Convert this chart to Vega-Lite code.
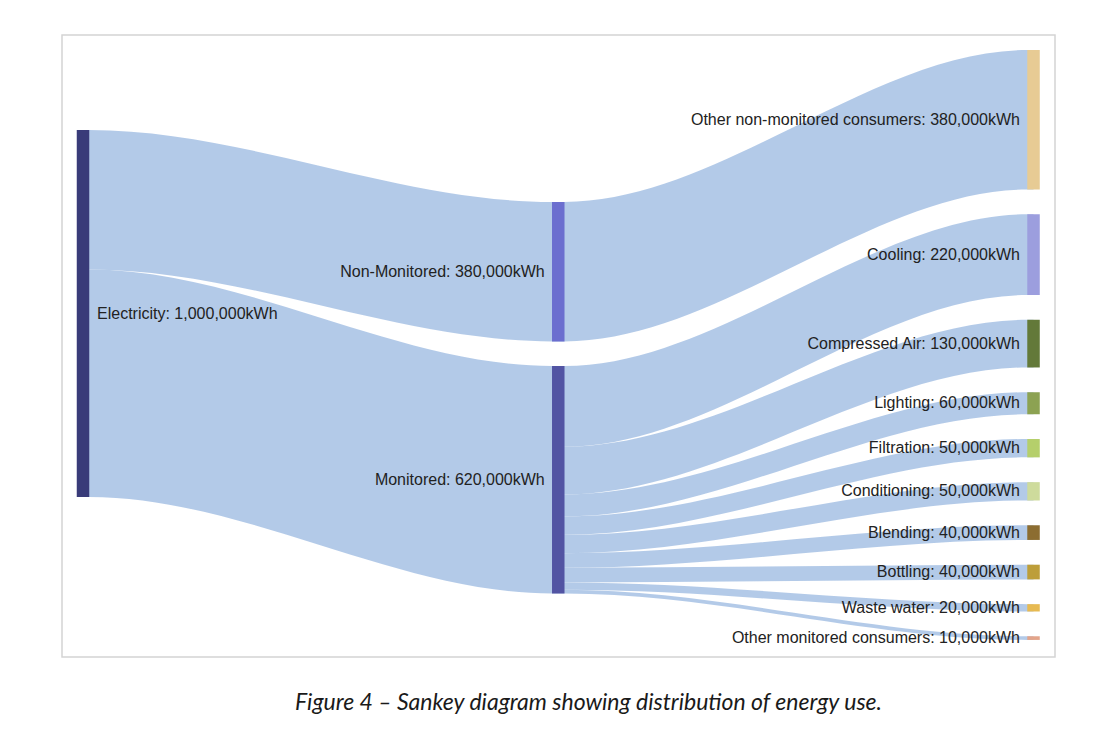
{
  "$schema": "https://vega.github.io/schema/vega-lite/v6.json",
  "width": 993,
  "height": 622,
  "autosize": {"type": "none"},
  "padding": {"left": 62, "top": 35, "right": 52, "bottom": 78},
  "background": "white",
  "view": {"stroke": "#d4d4d4", "strokeWidth": 1.5},
  "title": {
    "text": "Figure 4 – Sankey diagram showing distribution of energy use.",
    "orient": "bottom",
    "anchor": "middle",
    "dx": 30,
    "offset": 35,
    "font": "Lato",
    "fontStyle": "italic",
    "fontWeight": "normal",
    "fontSize": 23,
    "color": "#1a1a1a"
  },
  "datasets": {
    "links": [
      {"link": "Electricity→Non-Monitored", "x": 0, "top": 259, "bottom": 639},
      {"link": "Electricity→Non-Monitored", "x": 0.013, "top": 259, "bottom": 639},
      {"link": "Electricity→Non-Monitored", "x": 0.987, "top": 455, "bottom": 835},
      {"link": "Electricity→Non-Monitored", "x": 1, "top": 455, "bottom": 835},
      {"link": "Electricity→Monitored", "x": 0, "top": 639, "bottom": 1259},
      {"link": "Electricity→Monitored", "x": 0.013, "top": 639, "bottom": 1259},
      {"link": "Electricity→Monitored", "x": 0.987, "top": 902, "bottom": 1522},
      {"link": "Electricity→Monitored", "x": 1, "top": 902, "bottom": 1522},
      {"link": "Non-Monitored→Other non-monitored consumers", "x": 1, "top": 455, "bottom": 835},
      {"link": "Non-Monitored→Other non-monitored consumers", "x": 1.013, "top": 455, "bottom": 835},
      {"link": "Non-Monitored→Other non-monitored consumers", "x": 1.987, "top": 41, "bottom": 421},
      {"link": "Non-Monitored→Other non-monitored consumers", "x": 2, "top": 41, "bottom": 421},
      {"link": "Monitored→Cooling", "x": 1, "top": 902, "bottom": 1122},
      {"link": "Monitored→Cooling", "x": 1.013, "top": 902, "bottom": 1122},
      {"link": "Monitored→Cooling", "x": 1.987, "top": 488.5, "bottom": 708.5},
      {"link": "Monitored→Cooling", "x": 2, "top": 488.5, "bottom": 708.5},
      {"link": "Monitored→Compressed Air", "x": 1, "top": 1122, "bottom": 1252},
      {"link": "Monitored→Compressed Air", "x": 1.013, "top": 1122, "bottom": 1252},
      {"link": "Monitored→Compressed Air", "x": 1.987, "top": 776, "bottom": 906},
      {"link": "Monitored→Compressed Air", "x": 2, "top": 776, "bottom": 906},
      {"link": "Monitored→Lighting", "x": 1, "top": 1252, "bottom": 1312},
      {"link": "Monitored→Lighting", "x": 1.013, "top": 1252, "bottom": 1312},
      {"link": "Monitored→Lighting", "x": 1.987, "top": 973.5, "bottom": 1033.5},
      {"link": "Monitored→Lighting", "x": 2, "top": 973.5, "bottom": 1033.5},
      {"link": "Monitored→Filtration", "x": 1, "top": 1312, "bottom": 1362},
      {"link": "Monitored→Filtration", "x": 1.013, "top": 1312, "bottom": 1362},
      {"link": "Monitored→Filtration", "x": 1.987, "top": 1101, "bottom": 1151},
      {"link": "Monitored→Filtration", "x": 2, "top": 1101, "bottom": 1151},
      {"link": "Monitored→Conditioning", "x": 1, "top": 1362, "bottom": 1412},
      {"link": "Monitored→Conditioning", "x": 1.013, "top": 1362, "bottom": 1412},
      {"link": "Monitored→Conditioning", "x": 1.987, "top": 1218.5, "bottom": 1268.5},
      {"link": "Monitored→Conditioning", "x": 2, "top": 1218.5, "bottom": 1268.5},
      {"link": "Monitored→Blending", "x": 1, "top": 1412, "bottom": 1452},
      {"link": "Monitored→Blending", "x": 1.013, "top": 1412, "bottom": 1452},
      {"link": "Monitored→Blending", "x": 1.987, "top": 1336, "bottom": 1376},
      {"link": "Monitored→Blending", "x": 2, "top": 1336, "bottom": 1376},
      {"link": "Monitored→Bottling", "x": 1, "top": 1452, "bottom": 1492},
      {"link": "Monitored→Bottling", "x": 1.013, "top": 1452, "bottom": 1492},
      {"link": "Monitored→Bottling", "x": 1.987, "top": 1443.5, "bottom": 1483.5},
      {"link": "Monitored→Bottling", "x": 2, "top": 1443.5, "bottom": 1483.5},
      {"link": "Monitored→Waste water", "x": 1, "top": 1492, "bottom": 1512},
      {"link": "Monitored→Waste water", "x": 1.013, "top": 1492, "bottom": 1512},
      {"link": "Monitored→Waste water", "x": 1.987, "top": 1551, "bottom": 1571},
      {"link": "Monitored→Waste water", "x": 2, "top": 1551, "bottom": 1571},
      {"link": "Monitored→Other monitored consumers", "x": 1, "top": 1512, "bottom": 1522},
      {"link": "Monitored→Other monitored consumers", "x": 1.013, "top": 1512, "bottom": 1522},
      {"link": "Monitored→Other monitored consumers", "x": 1.987, "top": 1638.5, "bottom": 1648.5},
      {"link": "Monitored→Other monitored consumers", "x": 2, "top": 1638.5, "bottom": 1648.5}
    ],
    "nodes": [
      {"name": "Electricity", "stage": 0, "top": 259, "bottom": 1259, "label": "Electricity: 1,000,000kWh"},
      {"name": "Non-Monitored", "stage": 1, "top": 455, "bottom": 835, "label": "Non-Monitored: 380,000kWh"},
      {"name": "Monitored", "stage": 1, "top": 902, "bottom": 1522, "label": "Monitored: 620,000kWh"},
      {"name": "Other non-monitored consumers", "stage": 2, "top": 41, "bottom": 421, "label": "Other non-monitored consumers: 380,000kWh"},
      {"name": "Cooling", "stage": 2, "top": 488.5, "bottom": 708.5, "label": "Cooling: 220,000kWh"},
      {"name": "Compressed Air", "stage": 2, "top": 776, "bottom": 906, "label": "Compressed Air: 130,000kWh"},
      {"name": "Lighting", "stage": 2, "top": 973.5, "bottom": 1033.5, "label": "Lighting: 60,000kWh"},
      {"name": "Filtration", "stage": 2, "top": 1101, "bottom": 1151, "label": "Filtration: 50,000kWh"},
      {"name": "Conditioning", "stage": 2, "top": 1218.5, "bottom": 1268.5, "label": "Conditioning: 50,000kWh"},
      {"name": "Blending", "stage": 2, "top": 1336, "bottom": 1376, "label": "Blending: 40,000kWh"},
      {"name": "Bottling", "stage": 2, "top": 1443.5, "bottom": 1483.5, "label": "Bottling: 40,000kWh"},
      {"name": "Waste water", "stage": 2, "top": 1551, "bottom": 1571, "label": "Waste water: 20,000kWh"},
      {"name": "Other monitored consumers", "stage": 2, "top": 1638.5, "bottom": 1648.5, "label": "Other monitored consumers: 10,000kWh"}
    ]
  },
  "layer": [
    {
      "data": {"name": "links"},
      "mark": {"type": "area", "orient": "vertical", "interpolate": "monotone", "color": "#a6c1e4", "opacity": 0.85},
      "encoding": {
        "x": {"field": "x", "type": "quantitative", "scale": {"domain": [-0.0442, 2.0452], "nice": false, "zero": false, "padding": 0}, "axis": null},
        "y": {"field": "top", "type": "quantitative", "stack": null, "scale": {"domain": [0, 1695], "reverse": true, "nice": false, "zero": false}, "axis": null},
        "y2": {"field": "bottom"},
        "detail": {"field": "link", "type": "nominal"}
      }
    },
    {
      "data": {"name": "nodes"},
      "mark": {"type": "bar", "width": 12.5, "orient": "vertical"},
      "encoding": {
        "x": {"field": "stage", "type": "quantitative", "axis": null},
        "y": {"field": "top", "type": "quantitative", "stack": null, "axis": null},
        "y2": {"field": "bottom"},
        "color": {
          "field": "name", "type": "nominal", "legend": null,
          "scale": {
            "domain": ["Electricity", "Monitored", "Non-Monitored", "Cooling", "Compressed Air", "Lighting", "Filtration", "Conditioning", "Blending", "Bottling", "Waste water", "Other non-monitored consumers", "Other monitored consumers"],
            "range": ["#393b79", "#5254a3", "#6b6ecf", "#9c9ede", "#637939", "#8ca252", "#b5cf6b", "#cedb9c", "#8c6d31", "#bd9e39", "#e7ba52", "#e7cb94", "#e3a48a"]
          }
        }
      }
    },
    {
      "data": {"name": "nodes"},
      "transform": [
        {"filter": "datum.stage == 0"},
        {"calculate": "(datum.top + datum.bottom) / 2", "as": "mid"}
      ],
      "mark": {"type": "text", "align": "left", "baseline": "middle", "dx": 14, "font": "Liberation Sans", "fontSize": 16, "color": "#222222"},
      "encoding": {
        "x": {"field": "stage", "type": "quantitative", "axis": null},
        "y": {"field": "mid", "type": "quantitative", "axis": null},
        "text": {"field": "label"}
      }
    },
    {
      "data": {"name": "nodes"},
      "transform": [
        {"filter": "datum.stage > 0"},
        {"calculate": "(datum.top + datum.bottom) / 2", "as": "mid"}
      ],
      "mark": {"type": "text", "align": "right", "baseline": "middle", "dx": -13.5, "font": "Liberation Sans", "fontSize": 16, "color": "#222222"},
      "encoding": {
        "x": {"field": "stage", "type": "quantitative", "axis": null},
        "y": {"field": "mid", "type": "quantitative", "axis": null},
        "text": {"field": "label"}
      }
    }
  ]
}
